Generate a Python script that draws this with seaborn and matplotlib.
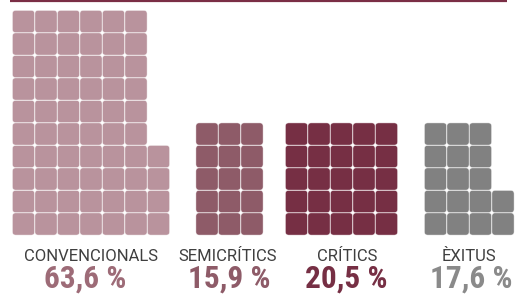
import numpy as np
import pandas as pd
import matplotlib
matplotlib.use("Agg")
import matplotlib.pyplot as plt
from matplotlib import font_manager as fm
from matplotlib.path import Path
import seaborn as sns

# dades
grups = ['CONVENCIONALS', 'SEMICRÍTICS', 'CRÍTICS', 'ÈXITUS']
percentatges = ['63,6 %', '15,9 %', '20,5 %', '17,6 %']
quadres = [64, 15, 25, 17]
alcada_columna = [10, 5, 5, 5]

colors_quadre = ['#b9939d', '#8e5b68', '#762f44', '#818181']
colors_pct = ['#9d6b77', '#8e5b68', '#762f44', '#8a8a8a']

# posicions (px)
inici_x = [23.5, 207, 296.5, 435.5]
base_y = 224
pas = 22.5
x_etiqueta = [91, 228, 347, 469]
x_pct = [85, 229, 346, 471]

sns.set_theme(style="white")

# font estreta per als percentatges, si n'hi ha
fonts = [(f.name, f.stretch) for f in fm.fontManager.ttflist]
noms = {f[0] for f in fonts}
font_pct, stretch_pct = 'Liberation Sans', 'normal'
for nom in ['Liberation Sans Narrow', 'Roboto Condensed', 'Open Sans Condensed', 'DejaVu Sans Condensed']:
    if nom in noms:
        font_pct = nom
        break
else:
    if ('DejaVu Sans', 'condensed') in fonts or ('DejaVu Sans', 'semi-condensed') in fonts:
        font_pct, stretch_pct = 'DejaVu Sans', 'condensed'
mida_pct = 22.5 if font_pct != 'Liberation Sans' else 20

# marcador quadrat arrodonit
r = 0.3
verts = [(-1 + r, -1), (1 - r, -1), (1, -1), (1, -1 + r), (1, 1 - r), (1, 1), (1 - r, 1),
         (-1 + r, 1), (-1, 1), (-1, 1 - r), (-1, -1 + r), (-1, -1), (-1 + r, -1), (-1 + r, -1)]
codes = [Path.MOVETO, Path.LINETO, Path.CURVE3, Path.CURVE3, Path.LINETO, Path.CURVE3, Path.CURVE3,
         Path.LINETO, Path.CURVE3, Path.CURVE3, Path.LINETO, Path.CURVE3, Path.CURVE3, Path.CLOSEPOLY]
quadre = Path(verts, codes)

files = []
for g, n in enumerate(quadres):
    h = alcada_columna[g]
    for i in range(n):
        col, fila = divmod(i, h)
        files.append({'grup': grups[g], 'x': inici_x[g] + col * pas, 'y': base_y - fila * pas})
df = pd.DataFrame(files)

fig = plt.figure(figsize=(5.17, 2.95), dpi=100)
ax = fig.add_axes([0, 0, 1, 1])
ax.set_xlim(0, 517)
ax.set_ylim(295, 0)
ax.axis('off')

costat = 22.2 * 0.72
sns.scatterplot(data=df, x='x', y='y', hue='grup', palette=dict(zip(grups, colors_quadre)),
                marker=quadre, s=costat ** 2, edgecolor=(1, 1, 1, 0.6), linewidth=0.5,
                legend=False, ax=ax)

# línia superior
ax.plot([10, 507], [1, 1], color='#7a2e45', lw=1.6, solid_capstyle='butt')

for i in range(4):
    ax.text(x_etiqueta[i], 261, grups[i], ha='center', va='baseline', fontsize=12,
            color='#3f3f3f', family=['Roboto', 'DejaVu Sans'])
    ax.text(x_pct[i], 287.5, percentatges[i], ha='center', va='baseline', fontsize=mida_pct,
            fontweight='bold', fontstretch=stretch_pct, color=colors_pct[i],
            family=[font_pct, 'DejaVu Sans'])

fig.savefig('out.png', dpi=100)
